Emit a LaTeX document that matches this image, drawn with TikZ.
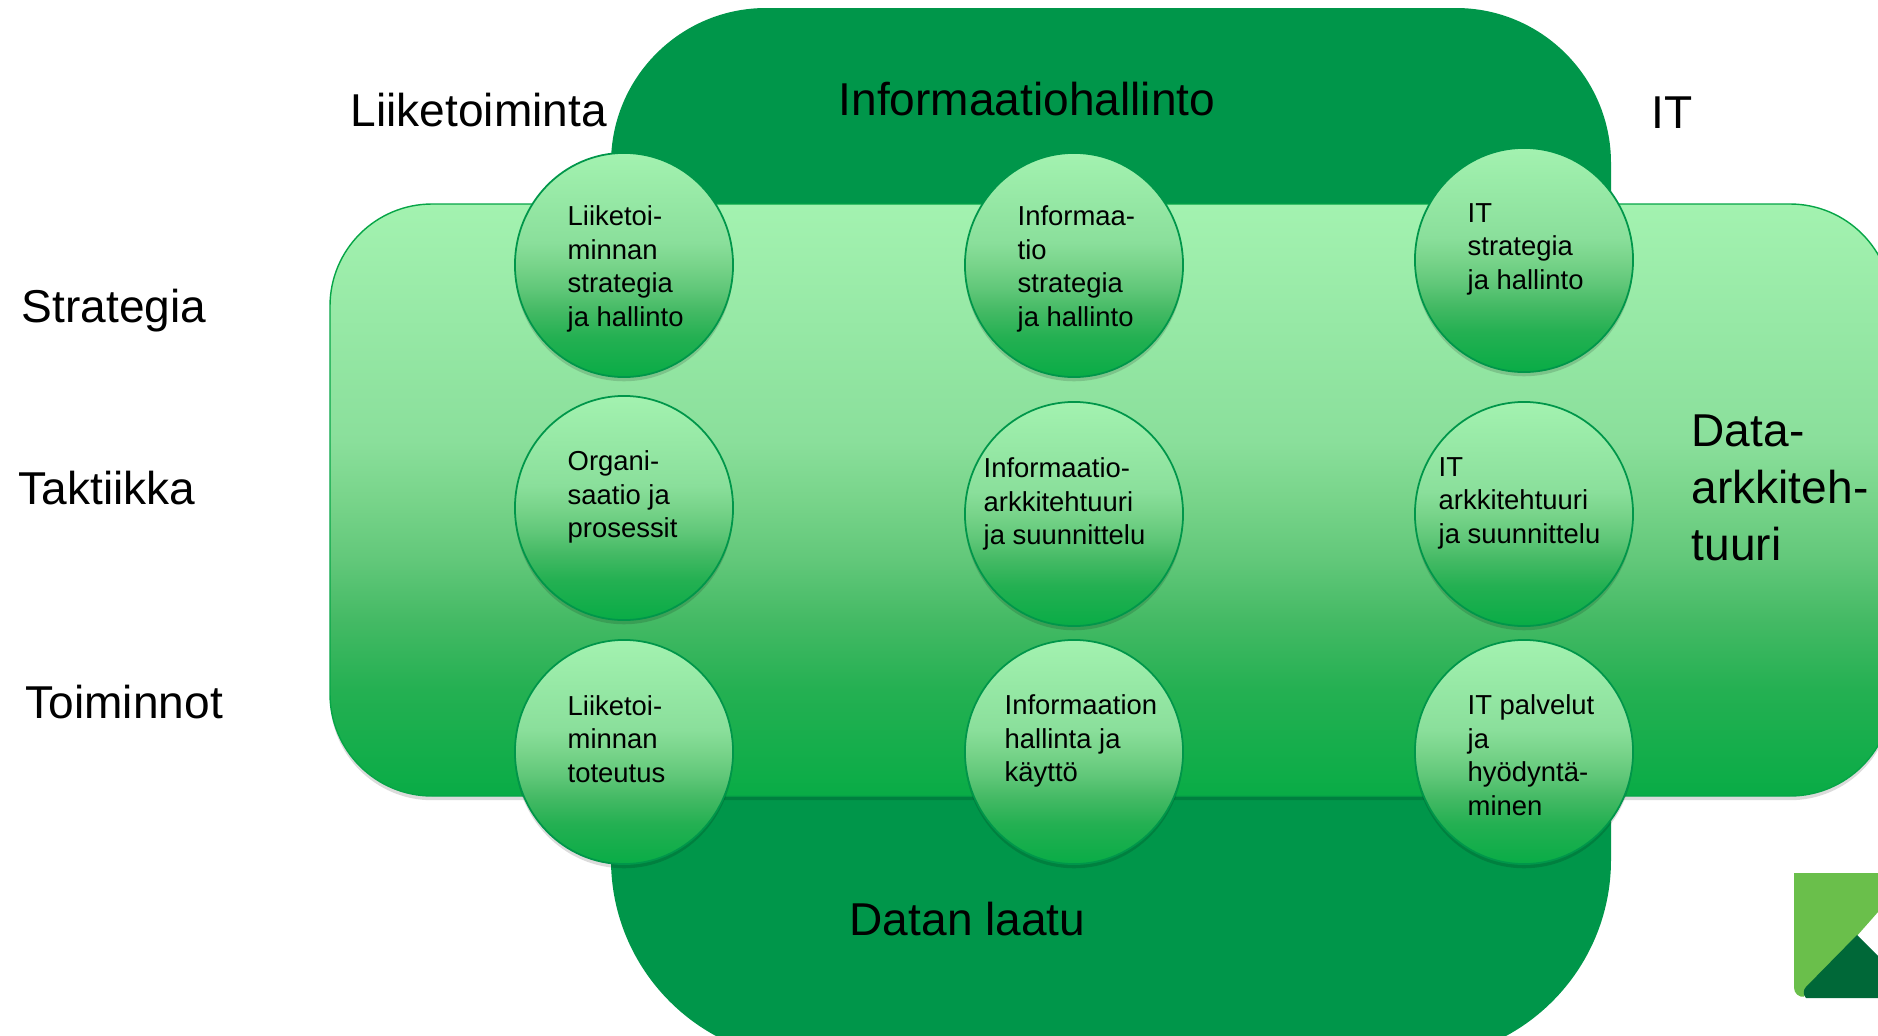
\documentclass[tikz,border=0pt]{standalone}
\usepackage{fontspec}
\setmainfont{Liberation Sans}
\usetikzlibrary{shadows,shapes.geometric}
\definecolor{darkgreen}{HTML}{00964A}
\definecolor{lightgreen}{HTML}{A3F2B0}
\definecolor{palegreen}{HTML}{8ADF9B}
\definecolor{centergreen}{HTML}{78D48A}
\definecolor{softgreen}{HTML}{62C87A}
\definecolor{lowgreen}{HTML}{45BA65}
\definecolor{deepgreen}{HTML}{24B052}
\definecolor{midgreen}{HTML}{09AC46}
\definecolor{logolight}{HTML}{6ABF4B}
\definecolor{logodark}{HTML}{006838}
\pgfdeclareverticalshading{greenfade}{100bp}{color(0bp)=(midgreen); color(25bp)=(midgreen); color(34bp)=(deepgreen); color(40bp)=(lowgreen); color(45bp)=(softgreen); color(50bp)=(centergreen); color(55bp)=(palegreen); color(75bp)=(lightgreen); color(100bp)=(lightgreen)}
\begin{document}
\begin{tikzpicture}[
    x=0.01cm,y=-0.01cm,
    ball/.style={draw=darkgreen,line width=0.5pt,ellipse,minimum width=2.18cm,minimum height=2.24cm,inner sep=0pt,
      shade,shading=greenfade,
      general shadow={fill=black,opacity=.14,shadow yshift=-1.2pt}},
    balltext/.style={anchor=west,align=left,font=\fontsize{7.8}{9.55}\selectfont,inner sep=0pt},
    biglabel/.style={anchor=west,align=left,font=\fontsize{13.1}{16.3}\selectfont,inner sep=0pt}
    ]
    \useasboundingbox (0, 0) rectangle (1878, 1036);
    \clip (0, 0) rectangle (1878, 1036);
    \fill[darkgreen] (611, 560) [rounded corners=1.55cm] -- (611, 8) -- (1611, 8) [rounded corners=2cm] -- (1611, 1060) -- (611, 1060) -- cycle;
    \path[shade,shading=greenfade,draw=midgreen!70!darkgreen,line width=0.4pt,rounded corners=1.02cm,general shadow={fill=black,opacity=.14,shadow yshift=-1.2pt}] (330, 204) rectangle (1892, 796);
    \node[ball] (strategyBusiness) at (624, 265) {};
    \node[ball] (strategyInfo) at (1074, 265) {};
    \node[ball] (strategyIt) at (1524, 260) {};
    \node[ball] (tacticsBusiness) at (624, 508) {};
    \node[ball] (tacticsInfo) at (1074, 514) {};
    \node[ball] (tacticsIt) at (1524, 514) {};
    \node[ball] (opsBusiness) at (624, 752) {};
    \node[ball] (opsInfo) at (1074, 752) {};
    \node[ball] (opsIt) at (1524, 752) {};
    \node[balltext] (textA) at (567, 269) {Liiketoi-\\minnan\\strategia\\ja hallinto};
    \node[balltext] (textB) at (1017, 269) {Informaa-\\tio\\strategia\\ja hallinto};
    \node[balltext] (textC) at (1467, 249) {IT\\strategia\\ja hallinto};
    \node[balltext] (textD) at (567, 497) {Organi-\\saatio ja\\prosessit};
    \node[balltext] (textE) at (983, 504) {Informaatio-\\arkkitehtuuri\\ja suunnittelu};
    \node[balltext] (textF) at (1438, 503) {IT\\arkkitehtuuri\\ja suunnittelu};
    \node[balltext] (textG) at (567, 739) {Liiketoi-\\minnan\\toteutus};
    \node[balltext] (textH) at (1004, 741) {Informaation\\hallinta ja\\käyttö};
    \node[balltext] (textI) at (1467, 755) {IT palvelut\\ja\\hyödyntä-\\minen};
    \node[biglabel] (business) at (350, 110) {Liiketoiminta};
    \node[biglabel] (infoMgmt) at (838, 99) {Informaatiohallinto};
    \node[biglabel] (it) at (1651, 113) {IT};
    \node[biglabel] (strategy) at (21, 311) {Strategia};
    \node[biglabel] (tactics) at (18, 488) {Taktiikka};
    \node[biglabel] (operations) at (25, 702) {Toiminnot};
    \node[biglabel] (dataArch) at (1691, 488) {Data-\\arkkiteh-\\tuuri};
    \node[biglabel] (quality) at (849, 919) {Datan laatu};
    \fill[logolight] (1794, 873) -- (1878, 873) -- (1878, 912) -- (1803, 997) [rounded corners=3pt] -- (1794, 998) [sharp corners] -- cycle;
    \fill[logodark] (1857, 935) -- (1878, 956) -- (1878, 998) -- (1806, 998) [rounded corners=2pt] -- (1801, 992) [sharp corners] -- cycle;
  \end{tikzpicture}
\end{document}
